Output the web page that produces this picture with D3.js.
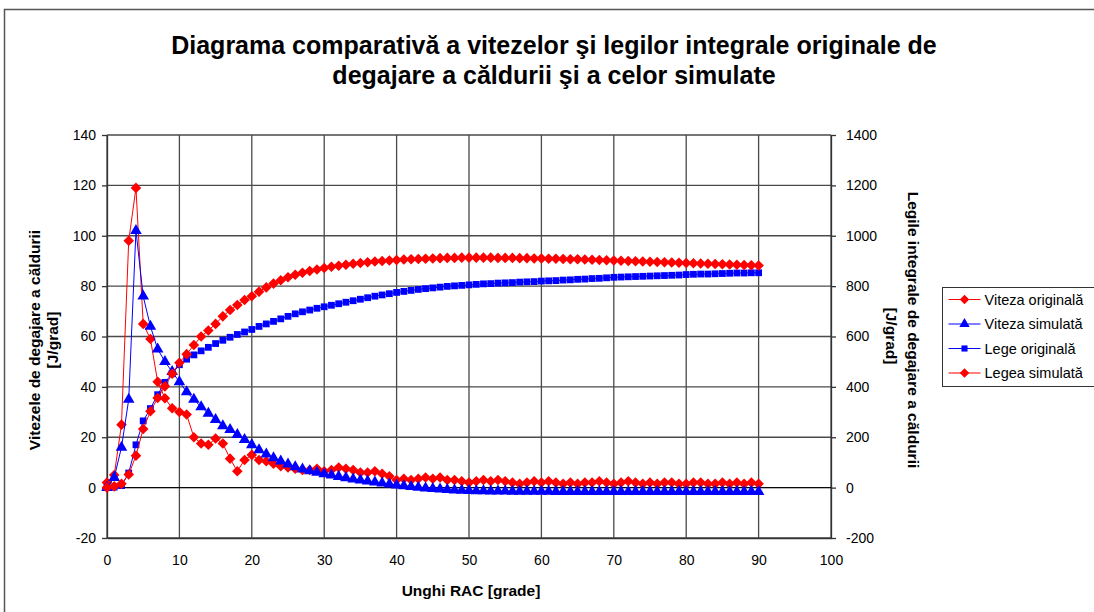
<!DOCTYPE html>
<html>
<head>
<meta charset="utf-8">
<script src="https://cdn.jsdelivr.net/npm/d3@7"></script>
<style>
  html, body { margin: 0; padding: 0; background: #fff; }
  svg { display: block; font-family: "Liberation Sans", Arial, sans-serif; }
  .tick-label { font-size: 14px; fill: #000; }
  .axis-title { font-size: 15.5px; font-weight: bold; fill: #000; }
  .title { font-size: 25px; font-weight: bold; fill: #000; }
  .legend-text { font-size: 14.5px; fill: #000; }
</style>
</head>
<body>
<div id="chart"></div>
<script>
// Unghi RAC 0..90 grade, pas de 1 grad
const unghi = d3.range(0, 91);

const vitezaOriginala = [
  2, 5, 25, 98, 119, 65, 59, 42, 35.5, 31.5,
  30, 29, 20, 17.5, 17, 19.5, 17.5, 11.5, 6.5, 11,
  13, 11, 10.5, 9.5, 8.5, 8, 7.5, 7, 7, 7.5,
  6.5, 7, 8, 7.5, 7, 6, 6, 6.5, 5.5, 4.5,
  3, 3.5, 3, 3.5, 4, 3.5, 4, 3, 3, 2.5,
  2, 2.5, 3, 2.5, 3, 2.5, 2, 1.5, 2, 2.5,
  2, 2.5, 2, 1.5, 2, 1.5, 2, 2, 2.5, 2,
  1.5, 2, 2.5, 2, 1.5, 2, 1.5, 2, 2, 1.5,
  1.5, 2, 2, 1.5, 1.5, 2, 1.5, 2, 1.5, 2,
  1.5
];

const vitezaSimulata = [
  0, 4, 16, 35, 102, 76, 64, 55, 50, 46,
  42, 38, 35, 32, 29.5, 27, 24.5, 23, 21, 19,
  17, 15, 13.3, 11.8, 10.5, 9.3, 8.2, 7.3, 6.6, 6,
  5.4, 4.9, 4.4, 3.9, 3.4, 3, 2.6, 2.2, 1.8, 1.4,
  1, 0.7, 0.4, 0.1, -0.2, -0.4, -0.6, -0.8, -1, -1.1,
  -1.2, -1.3, -1.3, -1.4, -1.4, -1.4, -1.5, -1.5, -1.5, -1.5,
  -1.5, -1.5, -1.6, -1.6, -1.6, -1.6, -1.6, -1.6, -1.6, -1.6,
  -1.6, -1.6, -1.6, -1.6, -1.6, -1.6, -1.6, -1.6, -1.6, -1.6,
  -1.6, -1.6, -1.6, -1.6, -1.6, -1.6, -1.6, -1.6, -1.6, -1.6,
  -1.6
];

const legeOriginala = [
  0, 2, 8, 58, 170, 265, 314, 369, 418, 452,
  488, 510, 527, 543, 557, 572, 585, 597, 608, 618,
  628, 640, 650, 660, 670, 680, 690, 698, 705, 712,
  718, 724, 730, 736, 742, 748, 754, 760, 765, 770,
  775, 779, 783, 787, 790, 793, 796, 799, 801, 803,
  805, 807, 809, 810, 812, 813, 814, 816, 817, 818,
  820, 821, 822, 824, 825, 827, 828, 830, 831, 833,
  835, 836, 837, 838, 839, 840, 841, 842, 843, 844,
  846, 847, 848, 848, 849, 850, 851, 852, 852, 853,
  853
];

const legeaSimulata = [
  0, 5, 15, 52, 127, 233, 303, 356, 402, 452,
  496, 530, 566, 600, 624, 650, 680, 705, 725, 745,
  760, 778, 795, 810, 823, 835, 845, 853, 860, 866,
  872, 877, 881, 885, 889, 892, 895, 898, 900, 902,
  904, 906, 907, 908, 909, 910, 911, 912, 912, 913,
  913, 913, 913, 913, 912, 912, 912, 911, 911, 910,
  910, 909, 909, 908, 907, 907, 906, 905, 904, 903,
  902, 901, 900, 899, 898, 897, 896, 895, 894, 893,
  892, 891, 890, 889, 888, 887, 886, 885, 884, 883,
  882
];

const xTicks = d3.range(0, 101, 10);
const yLeftTicks = d3.range(-20, 141, 20);
const yRightTicks = d3.range(-200, 1401, 200);

const titleLines = [
  "Diagrama comparativă a vitezelor şi legilor integrale originale de",
  "degajare a căldurii şi a celor simulate"
];

const RED = "#ff0000";
const BLUE = "#0000ff";

const series = [
  { name: "Viteza originală", values: vitezaOriginala, axis: "left", color: RED, marker: "diamond" },
  { name: "Viteza simulată", values: vitezaSimulata, axis: "left", color: BLUE, marker: "triangle" },
  { name: "Lege originală", values: legeOriginala, axis: "right", color: BLUE, marker: "square" },
  { name: "Legea simulată", values: legeaSimulata, axis: "right", color: RED, marker: "diamond" }
];

const W = 1094, H = 612;
const plot = { left: 107, right: 831, top: 135, bottom: 538 };

const svg = d3.select("#chart").append("svg").attr("width", W).attr("height", H);

// chenarul exterior al diagramei
svg.append("rect")
  .attr("x", 4.5).attr("y", 9.5)
  .attr("width", W + 10).attr("height", H + 10)
  .attr("fill", "#fff").attr("stroke", "#555").attr("stroke-width", 1.5);

const x = d3.scaleLinear().domain([0, 100]).range([plot.left, plot.right]);
const yL = d3.scaleLinear().domain([-20, 140]).range([plot.bottom, plot.top]);
const yR = d3.scaleLinear().domain([-200, 1400]).range([plot.bottom, plot.top]);

// grila
const grid = svg.append("g").attr("stroke", "#4a4a4a").attr("stroke-width", 1.3);
grid.selectAll("line.h").data(yLeftTicks).join("line")
  .attr("x1", plot.left).attr("x2", plot.right)
  .attr("y1", (d) => yL(d)).attr("y2", (d) => yL(d));
grid.selectAll("line.v").data(xTicks).join("line")
  .attr("x1", (d) => x(d)).attr("x2", (d) => x(d))
  .attr("y1", plot.top).attr("y2", plot.bottom);

// axe (cu "-" simplu, ca in original)
const fmt = (d) => String(d);
const leftAxis = svg.append("g").attr("transform", `translate(${plot.left},0)`)
  .call(d3.axisLeft(yL).tickValues(yLeftTicks).tickFormat(fmt).tickSize(5).tickPadding(6).tickSizeOuter(0));
const rightAxis = svg.append("g").attr("transform", `translate(${plot.right},0)`)
  .call(d3.axisRight(yR).tickValues(yRightTicks).tickFormat(fmt).tickSize(5).tickPadding(10).tickSizeOuter(0));
const bottomAxis = svg.append("g").attr("transform", `translate(0,${plot.bottom})`)
  .call(d3.axisBottom(x).tickValues(xTicks).tickFormat(fmt).tickSize(0).tickPadding(17).tickSizeOuter(0));

[leftAxis, rightAxis, bottomAxis].forEach((a) => {
  a.attr("font-family", null).attr("font-size", null);
  a.select(".domain").attr("stroke", "#333").attr("stroke-width", 1.3);
  a.selectAll(".tick line").attr("stroke", "#333").attr("stroke-width", 1.3);
  a.selectAll(".tick text").attr("class", "tick-label");
});

// linia de zero a axei X
svg.append("line")
  .attr("x1", plot.left).attr("x2", plot.right)
  .attr("y1", yL(0)).attr("y2", yL(0))
  .attr("stroke", "#000").attr("stroke-width", 1);

const markerPath = {
  diamond: d3.symbol(d3.symbolSquare, 56)(),
  triangle: d3.symbol(d3.symbolTriangle, 58)(),
  square: d3.symbol(d3.symbolSquare, 46)()
};
const markerRotate = { diamond: 45, triangle: 0, square: 0 };

const seriesG = svg.append("g");
series.forEach((s) => {
  const yS = s.axis === "left" ? yL : yR;
  const pts = unghi.map((u, i) => [u, s.values[i]]);
  const g = seriesG.append("g");
  g.append("path")
    .datum(pts)
    .attr("fill", "none")
    .attr("stroke", s.color)
    .attr("stroke-width", 1)
    .attr("d", d3.line().x((d) => x(d[0])).y((d) => yS(d[1])));
  g.selectAll("path.mk").data(pts).join("path")
    .attr("class", "mk")
    .attr("d", markerPath[s.marker])
    .attr("fill", s.color)
    .attr("transform", (d) => `translate(${x(d[0])},${yS(d[1])}) rotate(${markerRotate[s.marker]})`);
});

// titlu
svg.append("g").selectAll("text").data(titleLines).join("text")
  .attr("class", "title")
  .attr("x", 554)
  .attr("y", (d, i) => 54 + i * 30)
  .attr("text-anchor", "middle")
  .text((d) => d);

// titlurile axelor
svg.append("text").attr("class", "axis-title")
  .attr("text-anchor", "middle")
  .attr("transform", "translate(40,340) rotate(-90)")
  .text("Vitezele de degajare a căldurii");
svg.append("text").attr("class", "axis-title")
  .attr("text-anchor", "middle")
  .attr("transform", "translate(58,340) rotate(-90)")
  .text("[J/grad]");
svg.append("text").attr("class", "axis-title")
  .attr("text-anchor", "middle")
  .attr("transform", "translate(908,330) rotate(90)")
  .text("Legile integrale de degajare a căldurii");
svg.append("text").attr("class", "axis-title")
  .attr("text-anchor", "middle")
  .attr("transform", "translate(886,336) rotate(90)")
  .text("[J/grad]");
svg.append("text").attr("class", "axis-title")
  .attr("x", 471).attr("y", 596)
  .attr("text-anchor", "middle")
  .text("Unghi RAC [grade]");

// legenda
const legend = svg.append("g").attr("transform", "translate(942.5,287.5)");
legend.append("rect")
  .attr("width", 170).attr("height", 99)
  .attr("fill", "#fff").attr("stroke", "#333").attr("stroke-width", 1);
const item = legend.selectAll("g.item").data(series).join("g")
  .attr("class", "item")
  .attr("transform", (d, i) => `translate(0,${12 + i * 24.5})`);
item.append("line")
  .attr("x1", 6).attr("x2", 38)
  .attr("stroke", (d) => d.color).attr("stroke-width", 1);
item.append("path")
  .attr("d", (d) => markerPath[d.marker])
  .attr("fill", (d) => d.color)
  .attr("transform", (d) => `translate(22,0) rotate(${markerRotate[d.marker]}) scale(0.9)`);
item.append("text")
  .attr("class", "legend-text")
  .attr("x", 42).attr("y", 5)
  .text((d) => d.name);
</script>
</body>
</html>
